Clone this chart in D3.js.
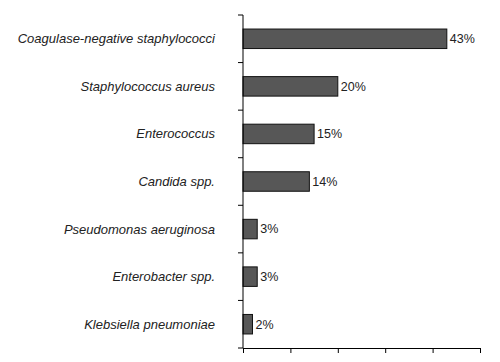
<!DOCTYPE html>
<html>
<head>
<meta charset="utf-8">
<script src="https://d3js.org/d3.v7.min.js"></script>
<style>
body { margin: 0; background: #fff; }
svg text { font-family: "Liberation Sans", Arial, sans-serif; }
</style>
</head>
<body>
<div class="chart"></div>
<script>
// organisms, top to bottom
var organisms = ["Coagulase-negative staphylococci", "Staphylococcus aureus", "Enterococcus",
                 "Candida spp.", "Pseudomonas aeruginosa", "Enterobacter spp.", "Klebsiella pneumoniae"];
var percents = [43, 20, 15, 14, 3, 3, 2];
var xTicks = [0, 10, 20, 30, 40, 50];

var w = 500, h = 362;
var plotLeft = 243, plotRight = 480, plotTop = 15, plotBottom = 348;

var svg = d3.select(".chart").append("svg")
    .attr("width", w)
    .attr("height", h);

var xScale = d3.scaleLinear().domain([0, 50]).range([plotLeft, plotRight]);
var yScale = d3.scaleBand().domain(organisms).range([plotTop, plotBottom]).paddingInner(0.59).paddingOuter(0.295);

// bars
svg.selectAll("rect.bar")
    .data(percents)
    .enter()
    .append("rect")
    .attr("class", "bar")
    .attr("x", xScale(0))
    .attr("y", function(d, i) { return yScale(organisms[i]); })
    .attr("width", function(d) { return xScale(d) - xScale(0); })
    .attr("height", yScale.bandwidth())
    .attr("fill", "#575757")
    .attr("stroke", "#111")
    .attr("stroke-width", 1);

// value labels
svg.selectAll("text.val")
    .data(percents)
    .enter()
    .append("text")
    .attr("class", "val")
    .attr("x", function(d) { return xScale(d) + 3; })
    .attr("y", function(d, i) { return yScale(organisms[i]) + yScale.bandwidth() / 2; })
    .attr("dy", "0.35em")
    .attr("font-size", 12.5)
    .attr("fill", "#222")
    .text(function(d) { return d + "%"; });

// category labels
svg.selectAll("text.cat")
    .data(organisms)
    .enter()
    .append("text")
    .attr("class", "cat")
    .attr("x", 215)
    .attr("y", function(d) { return yScale(d) + yScale.bandwidth() / 2; })
    .attr("dy", "0.35em")
    .attr("text-anchor", "end")
    .attr("font-size", 13)
    .attr("font-style", "italic")
    .attr("fill", "#222")
    .text(function(d) { return d; });

// left axis: ticks between bands
var yEdges = organisms.map(function(d) { return yScale(d) - yScale.step() * yScale.paddingInner() / 2; });
yEdges.push(plotBottom);
svg.append("line")
    .attr("x1", plotLeft).attr("x2", plotLeft)
    .attr("y1", plotTop).attr("y2", plotBottom)
    .attr("stroke", "#000");
svg.selectAll("line.ytick")
    .data(yEdges)
    .enter()
    .append("line")
    .attr("class", "ytick")
    .attr("x1", plotLeft - 5).attr("x2", plotLeft)
    .attr("y1", function(d) { return d; })
    .attr("y2", function(d) { return d; })
    .attr("stroke", "#000");

// bottom axis without labels
svg.append("g")
    .attr("transform", "translate(0," + plotBottom + ")")
    .call(d3.axisBottom(xScale).tickValues(xTicks).tickSize(5).tickSizeOuter(0).tickFormat(""))
    .call(function(g) { g.selectAll("path, line").attr("stroke", "#000"); });
</script>
</body>
</html>
